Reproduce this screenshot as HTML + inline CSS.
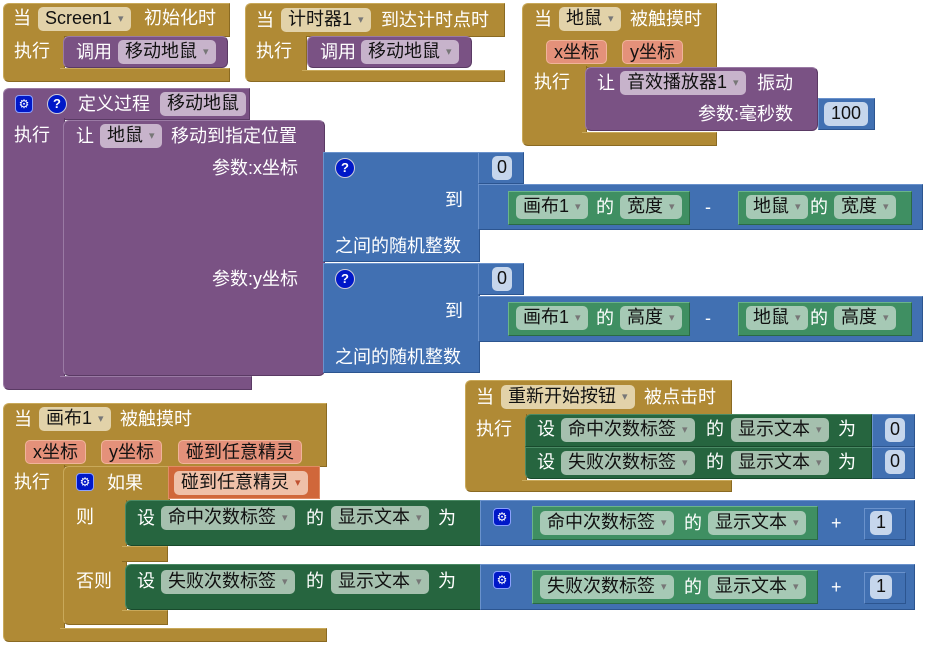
<!DOCTYPE html>
<html><head><meta charset="utf-8"><style>
body{margin:0;width:927px;height:646px;background:#fff;position:relative;overflow:hidden;font-family:"Liberation Sans","Noto Sans CJK SC",sans-serif;font-size:18px}
div{position:absolute;box-sizing:border-box}
.g{background:#b08a35;border:1px solid #c9a95a;border-right-color:#8a6a22;border-bottom-color:#8a6a22}
.p{background:#7a5284;border:1px solid #9a7aa4;border-right-color:#5a3a64;border-bottom-color:#5a3a64}
.bl{background:#4170b2;border:1px solid #6a92cc;border-right-color:#2c5590;border-bottom-color:#2c5590}
.sg{background:#26653f;border:1px solid #4a8a64;border-right-color:#184a2c;border-bottom-color:#184a2c}
.gg{background:#3f8f62;border:1px solid #6ab48a;border-right-color:#2a6a45;border-bottom-color:#2a6a45}
.or{background:#d0673a;border:1px solid #e08c64}
.t{color:#fff;white-space:nowrap;line-height:22px;height:22px}
.c{color:#111;white-space:nowrap;line-height:23px;height:24px;border-radius:5px;padding:0 7px}
.cg{background:#e2d2a9}.cp{background:#c7b3cb}.cgr{background:#a6c9b5}.csg{background:#a5c0ae}.cb{background:#c6d6ec}.co{background:#e4917a;border:1px solid #f0b49a}.co2{background:#efc0a8}
.a{color:#777;font-size:11px;margin-left:6px;vertical-align:2px}
.ic{width:18px;height:18px;border-radius:4px;background:#0018c8;border:1px solid #8aa0ff;color:#fff;font-size:12px;text-align:center;line-height:16px}
.q{width:20px;height:20px;border-radius:50%;background:#0018c8;border:1px solid #ccd;color:#fff;font-size:13px;font-weight:bold;text-align:center;line-height:18px}
</style></head><body>

<!-- Block 1 -->
<div class="g" style="left:3px;top:3px;width:227px;height:34px;border-radius:6px 0 0 0"></div>
<div class="g" style="left:3px;top:36px;width:62px;height:46px;border-top:none;border-radius:0 0 0 6px"></div>
<div class="g" style="left:60px;top:68px;width:170px;height:14px;border-left:none"></div>
<div class="t" style="left:13px;top:7px">当</div>
<div class="c cg" style="left:38px;top:7px">Screen1<span class="a">▾</span></div>
<div class="t" style="left:144px;top:7px">初始化时</div>
<div class="t" style="left:14px;top:40px">执行</div>
<div class="p" style="left:63px;top:36px;width:165px;height:32px;border-radius:6px"></div>
<div class="t" style="left:76px;top:41px">调用</div>
<div class="c cp" style="left:118px;top:40px">移动地鼠<span class="a">▾</span></div>

<!-- Block 2 -->
<div class="g" style="left:245px;top:3px;width:260px;height:34px;border-radius:6px 0 0 0"></div>
<div class="g" style="left:245px;top:36px;width:62px;height:46px;border-top:none;border-radius:0 0 0 6px"></div>
<div class="g" style="left:302px;top:70px;width:203px;height:12px;border-left:none"></div>
<div class="t" style="left:256px;top:9px">当</div>
<div class="c cg" style="left:281px;top:8px">计时器1<span class="a">▾</span></div>
<div class="t" style="left:381px;top:9px">到达计时点时</div>
<div class="t" style="left:256px;top:40px">执行</div>
<div class="p" style="left:307px;top:36px;width:165px;height:32px;border-radius:6px"></div>
<div class="t" style="left:320px;top:41px">调用</div>
<div class="c cp" style="left:361px;top:40px">移动地鼠<span class="a">▾</span></div>

<!-- Block 3 -->
<div class="g" style="left:522px;top:3px;width:195px;height:65px;border-radius:6px 0 0 0"></div>
<div class="g" style="left:522px;top:66px;width:65px;height:80px;border-top:none;border-radius:0 0 0 6px"></div>
<div class="g" style="left:582px;top:132px;width:135px;height:14px;border-left:none"></div>
<div class="t" style="left:534px;top:8px">当</div>
<div class="c cg" style="left:559px;top:7px">地鼠<span class="a">▾</span></div>
<div class="t" style="left:630px;top:8px">被触摸时</div>
<div class="c co" style="left:546px;top:40px;height:24px">x坐标</div>
<div class="c co" style="left:622px;top:40px;height:24px">y坐标</div>
<div class="t" style="left:534px;top:71px">执行</div>
<div class="p" style="left:585px;top:67px;width:233px;height:64px;border-radius:6px"></div>
<div class="t" style="left:597px;top:72px">让</div>
<div class="c cp" style="left:620px;top:71px">音效播放器1<span class="a">▾</span></div>
<div class="t" style="left:757px;top:72px">振动</div>
<div class="t" style="left:698px;top:103px">参数:毫秒数</div>
<div class="bl" style="left:818px;top:98px;width:57px;height:32px"></div>
<div class="c cb" style="left:824px;top:102px">100</div>

<!-- Procedure -->
<div class="p" style="left:3px;top:88px;width:247px;height:32px;border-radius:6px 0 0 0"></div>
<div class="p" style="left:3px;top:118px;width:62px;height:272px;border-top:none;border-radius:0 0 0 6px"></div>
<div class="p" style="left:60px;top:376px;width:192px;height:14px;border-left:none"></div>
<div class="ic" style="left:15px;top:95px">⚙</div>
<div class="q" style="left:47px;top:94px">?</div>
<div class="t" style="left:78px;top:93px">定义过程</div>
<div class="c cp" style="left:160px;top:92px">移动地鼠</div>
<div class="t" style="left:14px;top:124px">执行</div>
<div class="p" style="left:63px;top:120px;width:262px;height:256px;border-radius:6px"></div>
<div class="t" style="left:76px;top:125px">让</div>
<div class="c cp" style="left:100px;top:124px">地鼠<span class="a">▾</span></div>
<div class="t" style="left:171px;top:125px">移动到指定位置</div>
<div class="t" style="left:212px;top:157px">参数:x坐标</div>
<div class="t" style="left:212px;top:268px">参数:y坐标</div>

<!-- random 1 -->
<div class="bl" style="left:323px;top:152px;width:157px;height:110px"></div>
<div class="q" style="left:335px;top:158px">?</div>
<div class="t" style="left:445px;top:189px">到</div>
<div class="t" style="left:335px;top:235px">之间的随机整数</div>
<div class="bl" style="left:478px;top:152px;width:46px;height:32px"></div>
<div class="c cb" style="left:492px;top:156px;padding:0 5px">0</div>
<div class="bl" style="left:478px;top:184px;width:445px;height:46px"></div>
<div class="gg" style="left:508px;top:191px;width:182px;height:34px"></div>
<div class="c cgr" style="left:516px;top:195px">画布1<span class="a">▾</span></div>
<div class="t" style="left:596px;top:196px">的</div>
<div class="c cgr" style="left:620px;top:195px">宽度<span class="a">▾</span></div>
<div class="t" style="left:705px;top:196px">-</div>
<div class="gg" style="left:738px;top:191px;width:174px;height:34px"></div>
<div class="c cgr" style="left:746px;top:195px">地鼠<span class="a">▾</span></div>
<div class="t" style="left:810px;top:196px">的</div>
<div class="c cgr" style="left:834px;top:195px">宽度<span class="a">▾</span></div>

<!-- random 2 -->
<div class="bl" style="left:323px;top:263px;width:157px;height:110px"></div>
<div class="q" style="left:335px;top:269px">?</div>
<div class="t" style="left:445px;top:300px">到</div>
<div class="t" style="left:335px;top:346px">之间的随机整数</div>
<div class="bl" style="left:478px;top:263px;width:46px;height:32px"></div>
<div class="c cb" style="left:492px;top:267px;padding:0 5px">0</div>
<div class="bl" style="left:478px;top:296px;width:445px;height:46px"></div>
<div class="gg" style="left:508px;top:302px;width:182px;height:34px"></div>
<div class="c cgr" style="left:516px;top:306px">画布1<span class="a">▾</span></div>
<div class="t" style="left:596px;top:307px">的</div>
<div class="c cgr" style="left:620px;top:306px">高度<span class="a">▾</span></div>
<div class="t" style="left:705px;top:307px">-</div>
<div class="gg" style="left:738px;top:302px;width:174px;height:34px"></div>
<div class="c cgr" style="left:746px;top:306px">地鼠<span class="a">▾</span></div>
<div class="t" style="left:810px;top:307px">的</div>
<div class="c cgr" style="left:834px;top:306px">高度<span class="a">▾</span></div>

<!-- Restart button -->
<div class="g" style="left:465px;top:380px;width:267px;height:36px;border-radius:6px 0 0 0"></div>
<div class="g" style="left:465px;top:414px;width:62px;height:78px;border-top:none;border-radius:0 0 0 6px"></div>
<div class="g" style="left:522px;top:480px;width:210px;height:12px;border-left:none"></div>
<div class="t" style="left:476px;top:386px">当</div>
<div class="c cg" style="left:501px;top:385px">重新开始按钮<span class="a">▾</span></div>
<div class="t" style="left:644px;top:386px">被点击时</div>
<div class="t" style="left:476px;top:418px">执行</div>
<div class="sg" style="left:525px;top:414px;width:347px;height:33px;border-radius:6px 0 0 0"></div>
<div class="t" style="left:537px;top:418px">设</div>
<div class="c csg" style="left:561px;top:418px">命中次数标签<span class="a">▾</span></div>
<div class="t" style="left:706px;top:418px">的</div>
<div class="c csg" style="left:731px;top:418px">显示文本<span class="a">▾</span></div>
<div class="t" style="left:838px;top:418px">为</div>
<div class="bl" style="left:872px;top:414px;width:43px;height:33px"></div>
<div class="c cb" style="left:885px;top:418px;padding:0 5px">0</div>
<div class="sg" style="left:525px;top:447px;width:347px;height:32px;border-radius:0 0 0 6px"></div>
<div class="t" style="left:537px;top:451px">设</div>
<div class="c csg" style="left:561px;top:451px">失败次数标签<span class="a">▾</span></div>
<div class="t" style="left:706px;top:451px">的</div>
<div class="c csg" style="left:731px;top:451px">显示文本<span class="a">▾</span></div>
<div class="t" style="left:838px;top:451px">为</div>
<div class="bl" style="left:872px;top:447px;width:43px;height:32px"></div>
<div class="c cb" style="left:885px;top:450px;padding:0 5px">0</div>

<!-- Canvas touched -->
<div class="g" style="left:3px;top:403px;width:324px;height:64px;border-radius:6px 0 0 0"></div>
<div class="g" style="left:3px;top:465px;width:62px;height:177px;border-top:none;border-radius:0 0 0 6px"></div>
<div class="g" style="left:60px;top:628px;width:267px;height:14px;border-left:none"></div>
<div class="t" style="left:14px;top:408px">当</div>
<div class="c cg" style="left:39px;top:407px">画布1<span class="a">▾</span></div>
<div class="t" style="left:120px;top:408px">被触摸时</div>
<div class="c co" style="left:25px;top:440px;height:24px">x坐标</div>
<div class="c co" style="left:101px;top:440px;height:24px">y坐标</div>
<div class="c co" style="left:178px;top:440px;height:24px">碰到任意精灵</div>
<div class="t" style="left:14px;top:471px">执行</div>
<!-- if -->
<div class="g" style="left:63px;top:466px;width:107px;height:36px;border-radius:6px 0 0 0"></div>
<div class="g" style="left:63px;top:500px;width:64px;height:125px;border-top:none;border-radius:0 0 0 6px"></div>
<div class="g" style="left:122px;top:546px;width:46px;height:16px;border-left:none"></div>
<div class="g" style="left:122px;top:610px;width:46px;height:15px;border-left:none"></div>
<div class="ic" style="left:76px;top:473px">⚙</div>
<div class="t" style="left:107px;top:472px">如果</div>
<div class="or" style="left:168px;top:466px;width:152px;height:33px"></div>
<div class="c co2" style="left:174px;top:471px">碰到任意精灵<span class="a" style="color:#c05030">▾</span></div>
<div class="t" style="left:76px;top:506px">则</div>
<div class="t" style="left:76px;top:570px">否则</div>
<!-- set 1 -->
<div class="sg" style="left:125px;top:500px;width:356px;height:46px;border-radius:6px 0 0 6px"></div>
<div class="t" style="left:137px;top:507px">设</div>
<div class="c csg" style="left:161px;top:506px">命中次数标签<span class="a">▾</span></div>
<div class="t" style="left:306px;top:507px">的</div>
<div class="c csg" style="left:331px;top:506px">显示文本<span class="a">▾</span></div>
<div class="t" style="left:438px;top:507px">为</div>
<div class="bl" style="left:480px;top:500px;width:435px;height:46px"></div>
<div class="ic" style="left:493px;top:508px">⚙</div>
<div class="gg" style="left:532px;top:506px;width:286px;height:34px"></div>
<div class="c cgr" style="left:540px;top:511px">命中次数标签<span class="a">▾</span></div>
<div class="t" style="left:684px;top:512px">的</div>
<div class="c cgr" style="left:708px;top:511px">显示文本<span class="a">▾</span></div>
<div class="t" style="left:831px;top:512px">+</div>
<div class="bl" style="left:864px;top:508px;width:42px;height:32px"></div>
<div class="c cb" style="left:870px;top:511px;padding:0 6px">1</div>
<!-- set 2 -->
<div class="sg" style="left:125px;top:564px;width:356px;height:46px;border-radius:6px 0 0 6px"></div>
<div class="t" style="left:137px;top:570px">设</div>
<div class="c csg" style="left:161px;top:570px">失败次数标签<span class="a">▾</span></div>
<div class="t" style="left:306px;top:570px">的</div>
<div class="c csg" style="left:331px;top:570px">显示文本<span class="a">▾</span></div>
<div class="t" style="left:438px;top:570px">为</div>
<div class="bl" style="left:480px;top:564px;width:435px;height:46px"></div>
<div class="ic" style="left:493px;top:571px">⚙</div>
<div class="gg" style="left:532px;top:570px;width:286px;height:34px"></div>
<div class="c cgr" style="left:540px;top:575px">失败次数标签<span class="a">▾</span></div>
<div class="t" style="left:684px;top:576px">的</div>
<div class="c cgr" style="left:708px;top:575px">显示文本<span class="a">▾</span></div>
<div class="t" style="left:831px;top:576px">+</div>
<div class="bl" style="left:864px;top:572px;width:42px;height:32px"></div>
<div class="c cb" style="left:870px;top:575px;padding:0 6px">1</div>

</body></html>
